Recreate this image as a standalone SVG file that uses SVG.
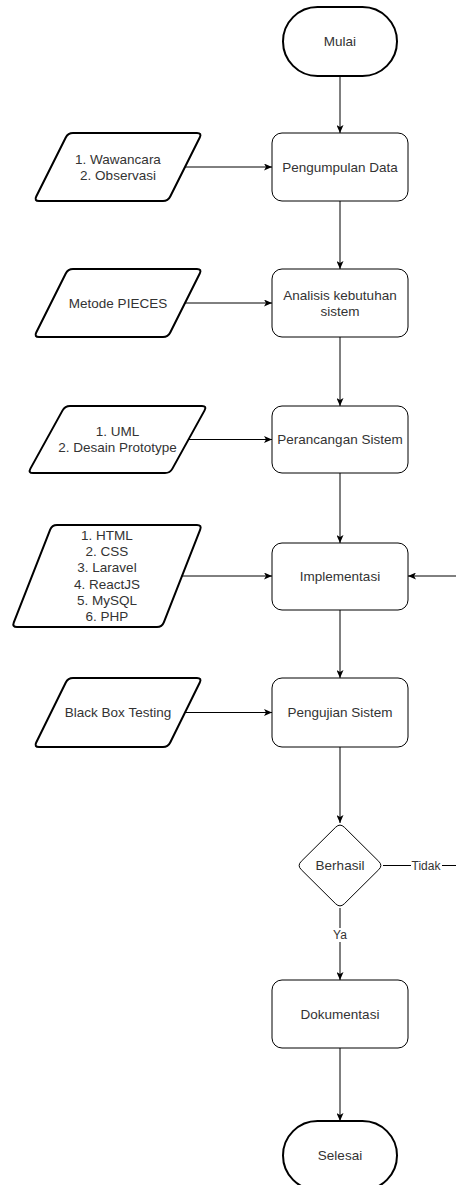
<svg xmlns="http://www.w3.org/2000/svg" width="456" height="1185" viewBox="0 0 456 1185">
<style>
text{font-family:"Liberation Sans",Arial,sans-serif;font-size:13.5px;fill:#333;text-anchor:middle;dominant-baseline:central}
.lbl{font-size:12px}
.term,.io{fill:#fff;stroke:#000;stroke-width:2;stroke-linejoin:round}
.proc{fill:#fff;stroke:#000;stroke-width:1}
.edge{fill:none;stroke:#000;stroke-width:1}
.arr{marker-end:url(#ah)}
</style>
<defs>
<marker id="ah" viewBox="0 0 8 7" refX="8" refY="3.5" markerWidth="8" markerHeight="7" markerUnits="userSpaceOnUse" orient="auto">
<path d="M0,0 L8,3.5 L0,7 L2,3.5 Z" fill="#000"/>
</marker>
</defs>
<g id="connectors">
<path class="edge arr" d="M340 76 V133"/>
<path class="edge arr" d="M340 201 V269"/>
<path class="edge arr" d="M340 337 V406"/>
<path class="edge arr" d="M340 473 V543"/>
<path class="edge arr" d="M340 610 V678"/>
<path class="edge arr" d="M340 747 V823"/>
<path class="edge arr" d="M340 908 V980"/>
<path class="edge arr" d="M340 1048 V1121"/>
<path class="edge arr" d="M185 167 H272"/>
<path class="edge arr" d="M185 303 H272"/>
<path class="edge arr" d="M188.5 439.5 H272"/>
<path class="edge arr" d="M182 576 H272"/>
<path class="edge arr" d="M185 712.5 H272"/>
<path class="edge arr" d="M383 865.5 H470 V576 H408"/>
<rect x="329" y="928" width="22" height="14" fill="#fff"/>
<text class="lbl" x="340" y="935">Ya</text>
<rect x="411" y="858" width="31" height="14" fill="#fff"/>
<text class="lbl" x="426" y="865.5">Tidak</text>
</g>
<g id="mulai">
<rect class="term" x="283" y="7" width="114" height="69" rx="34.5" ry="34.5"/>
<text x="340" y="41.5">Mulai</text>
</g>
<g id="pengumpulan">
<rect class="proc" x="272" y="133" width="136" height="68" rx="10"/>
<text x="340" y="167">Pengumpulan Data</text>
</g>
<g id="input1">
<path class="io" d="M73 133 H197 Q202 133 199.76 137.47 L170.24 196.53 Q168 201 163 201 H39 Q34 201 36.24 196.53 L65.76 137.47 Q68 133 73 133 Z"/>
<text x="118" y="159">1. Wawancara</text>
<text x="118" y="175.5">2. Observasi</text>
</g>
<g id="analisis">
<rect class="proc" x="272" y="269" width="136" height="68" rx="10"/>
<text x="340" y="295">Analisis kebutuhan</text>
<text x="340" y="311.5">sistem</text>
</g>
<g id="input2">
<path class="io" d="M73 269 H197 Q202 269 199.76 273.47 L170.24 332.53 Q168 337 163 337 H39 Q34 337 36.24 332.53 L65.76 273.47 Q68 269 73 269 Z"/>
<text x="118" y="303">Metode PIECES</text>
</g>
<g id="perancangan">
<rect class="proc" x="272" y="406" width="136" height="67" rx="10"/>
<text x="340" y="439.5">Perancangan Sistem</text>
</g>
<g id="input3">
<path class="io" d="M70 406 H202 Q207 406 204.58 410.38 L172.42 468.62 Q170 473 165 473 H33 Q28 473 30.42 468.62 L62.58 410.38 Q65 406 70 406 Z"/>
<text x="117.5" y="431">1. UML</text>
<text x="117.5" y="447.5">2. Desain Prototype</text>
</g>
<g id="implementasi">
<rect class="proc" x="272" y="543" width="136" height="67" rx="10"/>
<text x="340" y="576">Implementasi</text>
</g>
<g id="input4">
<path class="io" d="M57 525 H197 Q202 525 200.18 529.65 L163.82 622.35 Q162 627 157 627 H17 Q12 627 13.82 622.35 L50.18 529.65 Q52 525 57 525 Z"/>
<text x="107" y="535.2">1. HTML</text>
<text x="107" y="551.5">2. CSS</text>
<text x="107" y="567.8">3. Laravel</text>
<text x="107" y="584.1">4. ReactJS</text>
<text x="107" y="600.4">5. MySQL</text>
<text x="107" y="616.7">6. PHP</text>
</g>
<g id="pengujian">
<rect class="proc" x="272" y="678" width="136" height="69" rx="10"/>
<text x="340" y="712.5">Pengujian Sistem</text>
</g>
<g id="input5">
<path class="io" d="M73 678 H197 Q202 678 199.79 682.49 L170.21 742.51 Q168 747 163 747 H39 Q34 747 36.21 742.51 L65.79 682.49 Q68 678 73 678 Z"/>
<text x="118" y="712.5">Black Box Testing</text>
</g>
<g id="berhasil">
<path class="proc" d="M344.3 827.2 L378.7 861.3 Q383 865.5 378.7 869.7 L344.3 903.8 Q340 908 335.7 903.8 L301.3 869.7 Q297 865.5 301.3 861.3 L335.7 827.2 Q340 823 344.3 827.2 Z"/>
<text x="340" y="865.5">Berhasil</text>
</g>
<g id="dokumentasi">
<rect class="proc" x="272" y="980" width="136" height="68" rx="10"/>
<text x="340" y="1014">Dokumentasi</text>
</g>
<g id="selesai">
<rect class="term" x="283" y="1121" width="114" height="69" rx="34.5" ry="34.5"/>
<text x="340" y="1155.5">Selesai</text>
</g>
</svg>
